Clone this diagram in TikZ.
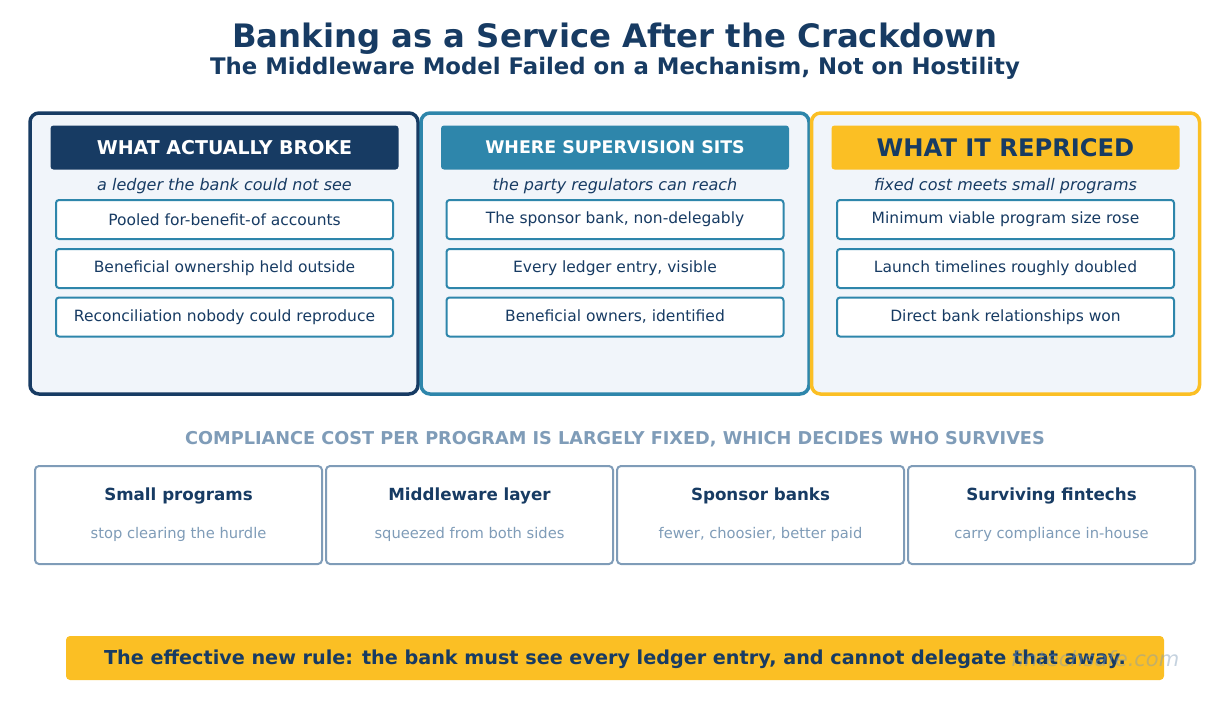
\documentclass[tikz,border=0pt]{standalone}
\usepackage{fontspec}
\setmainfont{DejaVu Sans}
\usetikzlibrary{positioning}
\definecolor{navy}{HTML}{173B63}
\definecolor{teal}{HTML}{2E86AB}
\definecolor{gold}{HTML}{FBBF24}
\definecolor{slate}{HTML}{7F9CB8}
\definecolor{paper}{HTML}{F1F5FA}
\tikzset{
  panel/.style={draw=#1, line width=3.5pt, fill=paper, rounded corners=9pt, minimum width=388pt, minimum height=281pt},
  bar/.style={fill=#1, rounded corners=3pt, minimum width=348pt, minimum height=44pt, font=\bfseries\fontsize{19}{22}\selectfont},
  tag/.style={font=\itshape\fontsize{16}{19}\selectfont, text=navy},
  item/.style={draw=teal, line width=2pt, fill=white, rounded corners=3pt, minimum width=337pt, minimum height=39pt, font=\fontsize{15.5}{18}\selectfont, text=navy},
  card/.style={draw=slate, line width=2pt, fill=white, rounded corners=4pt, minimum width=287pt, minimum height=98pt},
}
\begin{document}
\begin{tikzpicture}[x=1pt,y=-1pt]
  \useasboundingbox (0,0) rectangle (1230,704);

  \node[text=navy, font=\bfseries\fontsize{32.3}{37}\selectfont] (title) at (615,39) {Banking as a Service After the Crackdown};
  \node[text=navy, font=\bfseries\fontsize{22.8}{27}\selectfont] (subtitle) at (615,68) {The Middleware Model Failed on a Mechanism, Not on Hostility};

  % three panels
  \node[panel=navy] (p1) at (224,253.5) {};
  \node[panel=teal] (p2) at (615,253.5) {};
  \node[panel=gold] (p3) at (1005.5,253.5) {};

  \node[bar=navy, text=white] (h1) at (224.5,147.5) {WHAT ACTUALLY BROKE};
  \node[bar=teal, text=white, font=\bfseries\fontsize{17.4}{20}\selectfont] (h2) at (615,147.5) {WHERE SUPERVISION SITS};
  \node[bar=gold, text=navy, font=\bfseries\fontsize{24.2}{28}\selectfont] (h3) at (1005.5,147.5) {WHAT IT REPRICED};

  \node[tag] (t1) at (224.5,186) {a ledger the bank could not see};
  \node[tag] (t2) at (615,186) {the party regulators can reach};
  \node[tag] (t3) at (1005.5,186) {fixed cost meets small programs};

  \node[item] (a1) at (224.5,219.5) {Pooled for-benefit-of accounts};
  \node[item] (a2) at (224.5,268.5) {Beneficial ownership held outside};
  \node[item] (a3) at (224.5,317) {Reconciliation nobody could reproduce};
  \node[item] (b1) at (615,219.5) {The sponsor bank, non-delegably};
  \node[item] (b2) at (615,268.5) {Every ledger entry, visible};
  \node[item] (b3) at (615,317) {Beneficial owners, identified};
  \node[item] (c1) at (1005.5,219.5) {Minimum viable program size rose};
  \node[item] (c2) at (1005.5,268.5) {Launch timelines roughly doubled};
  \node[item] (c3) at (1005.5,317) {Direct bank relationships won};

  \node[text=slate, font=\bfseries\fontsize{17.7}{21}\selectfont] (caption) at (615,439) {COMPLIANCE COST PER PROGRAM IS LARGELY FIXED, WHICH DECIDES WHO SURVIVES};

  % four outcome cards
  \node[card] (k1) at (178.5,515) {};
  \node[card] (k2) at (469.5,515) {};
  \node[card] (k3) at (760.5,515) {};
  \node[card] (k4) at (1051.5,515) {};
  \foreach \k/\x/\head/\sub in {k1/178.5/Small programs/stop clearing the hurdle,
                               k2/469.5/Middleware layer/squeezed from both sides,
                               k3/760.5/Sponsor banks/{fewer, choosier, better paid},
                               k4/1051.5/Surviving fintechs/carry compliance in-house}{
    \node[text=navy, font=\bfseries\fontsize{16.7}{19}\selectfont] (\k-head) at (\x,496) {\head};
    \node[text=slate, font=\fontsize{14.7}{17}\selectfont] (\k-sub) at (\x,534) {\sub};
  }

  \node[fill=gold, rounded corners=4pt, minimum width=1098pt, minimum height=44pt] (rule) at (615,658) {};
  \node[text=navy, font=\bfseries\fontsize{19.2}{23}\selectfont] (rule-text) at (615,659) {The effective new rule: the bank must see every ledger entry, and cannot delegate that away.};
  \node[text=slate, opacity=0.45, font=\itshape\fontsize{21}{24}\selectfont] (mark) at (1095,659) {fintechsafe.com};
\end{tikzpicture}
\end{document}
